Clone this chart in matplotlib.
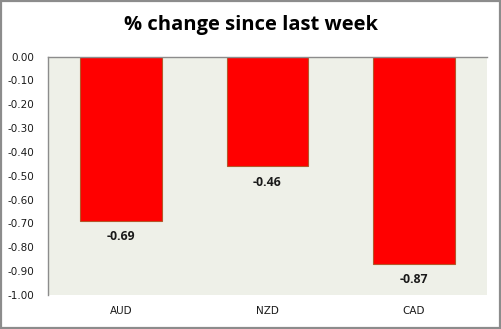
import matplotlib
matplotlib.use("Agg")
import matplotlib.pyplot as plt
from matplotlib.patches import Rectangle

currencies = ["AUD", "NZD", "CAD"]
changes = [-0.69, -0.46, -0.87]
y_ticks = [0.0, -0.1, -0.2, -0.3, -0.4, -0.5, -0.6, -0.7, -0.8, -0.9, -1.0]

fig = plt.figure(figsize=(5.02, 3.29), dpi=100)
fig.patch.set_facecolor("white")
fig.patches.append(Rectangle((0.001, 0.002), 0.996, 0.996, transform=fig.transFigure,
                             fill=False, edgecolor="#8c8c8c", linewidth=1.6))

ax = fig.add_axes([0.0956, 0.1033, 0.8745, 0.7247])
ax.set_facecolor("#eef0e8")

x = list(range(len(currencies)))
ax.bar(x, changes, width=0.56, color="#ff0000", edgecolor="#b5562a", linewidth=0.8, zorder=2)

for xi, v in zip(x, changes):
    ax.text(xi, v - 0.066, f"{v:.2f}", ha="center", va="center",
            fontsize=8.8, fontweight="bold", family="Open Sans", color="#1a1a1a")

ax.set_xlim(-0.5, len(currencies) - 0.5)
ax.set_ylim(-1.0, 0.0)
ax.set_yticks(y_ticks)
ax.set_yticklabels([f"{t:.2f}" for t in y_ticks], fontsize=7.5, color="#1a1a1a")
ax.set_xticks(x)
ax.set_xticklabels(currencies, fontsize=7.5, color="#1a1a1a")
ax.tick_params(axis="y", length=0, pad=10)
ax.tick_params(axis="x", length=0, pad=8)

for side in ("right", "bottom"):
    ax.spines[side].set_visible(False)
ax.spines["left"].set_color("#8c8c8c")
ax.spines["top"].set_color("#8c8c8c")
ax.spines["left"].set_linewidth(1.0)
ax.spines["top"].set_linewidth(1.0)

fig.text(0.5, 0.925, "% change since last week", ha="center", va="center",
         fontsize=14.5, fontweight="bold", family="Open Sans", color="black")

fig.savefig("out.png", dpi=100, facecolor=fig.get_facecolor())
